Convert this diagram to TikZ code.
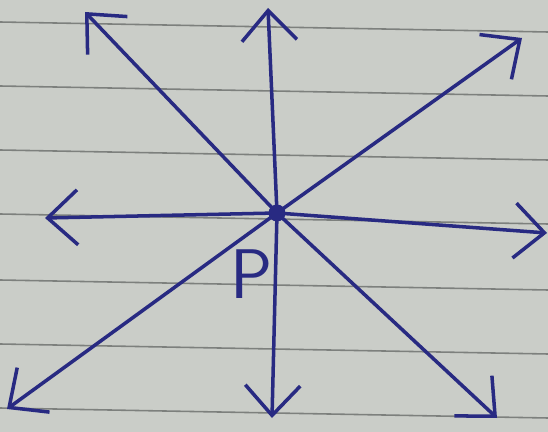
\documentclass[tikz,border=0pt]{standalone}
\usepackage{tikz}
\usetikzlibrary{arrows.meta}
\usetikzlibrary{calc}
\definecolor{InkBlue}{RGB}{40,42,130}
\definecolor{PaperGray}{RGB}{202,205,200}
\definecolor{RuleGray}{RGB}{125,128,125}
\tikzset{
	ray/.style={line width=2pt, draw=InkBlue, line cap=round,
		-{Straight Barb[length=6mm, width=11mm, line width=2pt]}},
	rule/.style={line width=0.9pt, draw=RuleGray},
	ctr/.style={circle, fill=InkBlue, inner sep=0pt, minimum size=3.4mm},
	lab/.style={text=InkBlue, font=\fontsize{40}{40}\selectfont\sffamily}
}

\begin{document}
\begin{tikzpicture}[x=0.02cm, y=-0.02cm]
		% paper
		\fill[PaperGray] (0,0) rectangle (548,432);
		\useasboundingbox (0,0) rectangle (548,432);
		\foreach \y in {22,86,150,214,280,344,408}
		\draw[rule] (0,\y) -- (548,\y+10);
		% point and ray ends
		\node[ctr] (p) at (277,213) {};
		\node[lab] (plab) at (252,274) {P};
		\coordinate (n) at (268,8);
		\coordinate (ne) at (522,38);
		\coordinate (e) at (547,233);
		\coordinate (se) at (497,418);
		\coordinate (s) at (272,418);
		\coordinate (sw) at (7,409);
		\coordinate (w) at (45,218);
		\coordinate (nw) at (85,12);
		\foreach \d in {n,ne,e,se,s,sw,w,nw}
		\draw[ray] (p.center) -- (\d);
	\end{tikzpicture}
\end{document}
